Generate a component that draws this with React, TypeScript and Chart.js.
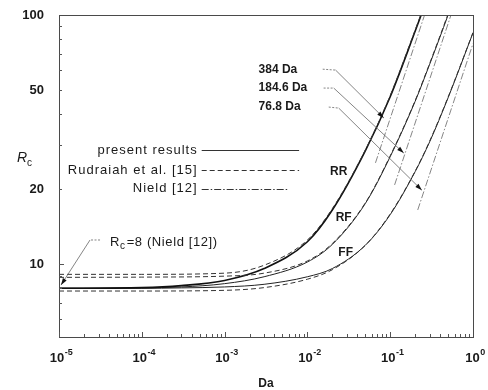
import React, { useEffect, useRef } from "react";
import { Chart, registerables } from "chart.js";

Chart.register(...registerables);

// ---- data ----
const rrPresentDa = [1e-5, 1e-4, 3e-4, 1e-3, 3e-3, 1e-2, 2e-2, 5e-2, 0.1, 0.2, 0.3];
const rrPresentR = [8.0, 8.05, 8.2, 8.6, 9.6, 12.3, 16.5, 28.5, 47, 86, 124];
const rfPresentDa = [1e-5, 1e-4, 3e-4, 1e-3, 3e-3, 1e-2, 2e-2, 5e-2, 0.1, 0.2, 0.3, 0.5, 0.6];
const rfPresentR = [8.0, 8.03, 8.1, 8.35, 8.9, 10.2, 12.0, 17.5, 27, 45, 63.5, 100, 119];
const ffPresentDa = [1e-5, 1e-4, 3e-4, 1e-3, 3e-3, 1e-2, 2e-2, 5e-2, 0.1, 0.2, 0.3, 0.5, 1];
const ffPresentR = [8.0, 8.0, 8.03, 8.1, 8.3, 8.9, 9.6, 11.9, 15.8, 23.5, 31, 46.5, 84.8];

const rrRudDa = [1e-5, 1e-4, 1e-3, 3e-3, 1e-2, 2e-2, 5e-2, 0.1, 0.2, 0.3];
const rrRudR = [9.1, 9.1, 9.2, 9.9, 12.5, 16.7, 28.7, 47.5, 87, 125];
const rfRudDa = [1e-5, 1e-4, 1e-3, 3e-3, 1e-2, 2e-2, 5e-2, 0.1, 0.2, 0.3, 0.5, 0.6];
const rfRudR = [8.85, 8.87, 8.95, 9.2, 10.3, 12.1, 17.6, 27.2, 45.3, 64, 101, 120];
const ffRudDa = [1e-5, 1e-4, 1e-3, 3e-3, 1e-2, 2e-2, 5e-2, 0.1, 0.2, 0.3, 0.5, 1];
const ffRudR = [7.8, 7.8, 7.85, 8.05, 8.7, 9.5, 11.9, 15.9, 23.6, 31.2, 46.8, 85];

const n384Da = [0.0664, 0.26];
const n384R = [25.5, 100];
const n185Da = [0.113, 0.542];
const n185R = [20.8, 100];
const n77Da = [0.215, 1];
const n77R = [16.5, 76.8];

const xTickValues = [1e-5, 1e-4, 1e-3, 1e-2, 1e-1, 1];
const xTickBase = "10";
const xTickExponents = ["-5", "-4", "-3", "-2", "-1", "0"];
const yTickValues = [10, 20, 50, 100];
const yTickLabels = ["10", "20", "50", "100"];

const legendLabels = ["present results", "Rudraiah et al. [15]", "Nield [12]"];
const slopeLabels = ["384 Da", "184.6 Da", "76.8 Da"];
const curveLabels = ["RR", "RF", "FF"];

const FONT = "'Liberation Sans', Arial, Helvetica, sans-serif";
const INK = "#1a1a1a";

const pts = (xs: number[], ys: number[]) => xs.map((x, i) => ({ x, y: ys[i] }));

const SOLID: number[] = [];
const DASH = [5, 3];
const DASHDOT = [7, 2, 1.5, 2];

function ds(xs: number[], ys: number[], dash: number[], width: number, color: string) {
  return {
    data: pts(xs, ys),
    borderColor: color,
    borderWidth: width,
    borderDash: dash,
    pointRadius: 0,
    fill: false,
    cubicInterpolationMode: "monotone" as const,
  };
}

function drawLeader(ctx: CanvasRenderingContext2D, s: number[], e: number[], t: number[]) {
  ctx.save();
  ctx.strokeStyle = "#666";
  ctx.lineWidth = 0.8;
  ctx.setLineDash([2, 1.5]);
  ctx.beginPath();
  ctx.moveTo(s[0], s[1]);
  ctx.lineTo(e[0], e[1]);
  ctx.stroke();
  ctx.setLineDash([]);
  ctx.beginPath();
  ctx.moveTo(e[0], e[1]);
  ctx.lineTo(t[0], t[1]);
  ctx.stroke();
  const ang = Math.atan2(t[1] - e[1], t[0] - e[0]);
  const L = 7, W = 2.2;
  ctx.fillStyle = "#111";
  ctx.beginPath();
  ctx.moveTo(t[0], t[1]);
  ctx.lineTo(t[0] - L * Math.cos(ang) + W * Math.sin(ang), t[1] - L * Math.sin(ang) - W * Math.cos(ang));
  ctx.lineTo(t[0] - L * Math.cos(ang) - W * Math.sin(ang), t[1] - L * Math.sin(ang) + W * Math.cos(ang));
  ctx.closePath();
  ctx.fill();
  ctx.restore();
}

const overlay = {
  id: "overlay",
  afterDraw(chart: any) {
    const { ctx, chartArea: a } = chart;
    const xs = chart.scales.x;
    const ys = chart.scales.y;
    const P = (da: number, r: number) => [xs.getPixelForValue(da), ys.getPixelForValue(r)];
    ctx.save();

    // frame
    ctx.strokeStyle = "#4a4a4a";
    ctx.lineWidth = 1;
    ctx.setLineDash([]);
    ctx.strokeRect(Math.round(a.left) + 0.5, Math.round(a.top) + 0.5, Math.round(a.right - a.left), Math.round(a.bottom - a.top));

    // inward ticks
    ctx.strokeStyle = "#555";
    for (let e = -5; e < 0; e++) {
      for (let m = 1; m <= 9; m++) {
        const v = m * Math.pow(10, e);
        const px = Math.round(xs.getPixelForValue(v)) + 0.5;
        const len = m === 1 ? 5 : 3;
        ctx.beginPath();
        ctx.moveTo(px, a.bottom);
        ctx.lineTo(px, a.bottom - len);
        ctx.stroke();
      }
    }
    for (let e = 0; e < 2; e++) {
      for (let m = 1; m <= 9; m++) {
        const v = m * Math.pow(10, e);
        if (v < ys.min || v > ys.max) continue;
        const py = Math.round(ys.getPixelForValue(v)) + 0.5;
        const len = m === 1 ? 5 : 3;
        ctx.beginPath();
        ctx.moveTo(a.left, py);
        ctx.lineTo(a.left + len, py);
        ctx.stroke();
      }
    }

    // x tick labels with superscript exponents
    ctx.fillStyle = INK;
    ctx.textBaseline = "alphabetic";
    ctx.textAlign = "left";
    xTickValues.forEach((v, i) => {
      const px = xs.getPixelForValue(v);
      ctx.font = `bold 13px ${FONT}`;
      const wb = ctx.measureText(xTickBase).width;
      ctx.font = `bold 9px ${FONT}`;
      const we = ctx.measureText(xTickExponents[i]).width;
      const x0 = px - (wb + we) / 2 + 2;
      const base = a.bottom + 25;
      ctx.font = `bold 13px ${FONT}`;
      ctx.fillText(xTickBase, x0, base);
      ctx.font = `bold 9px ${FONT}`;
      ctx.fillText(xTickExponents[i], x0 + wb + 0.5, base - 7);
    });

    // legend (positioned relative to plot area)
    const lx = a.left + (a.right - a.left) * 0.335;
    const lx2 = a.left + (a.right - a.left) * 0.58;
    const lys = [a.top + (a.bottom - a.top) * 0.42, a.top + (a.bottom - a.top) * 0.482, a.top + (a.bottom - a.top) * 0.54];
    const dashes = [SOLID, DASH, DASHDOT];
    ctx.fillStyle = INK;
    ctx.font = `13px ${FONT}`;
    ctx.textAlign = "right";
    ctx.textBaseline = "middle";
    (ctx as any).letterSpacing = "1px";
    legendLabels.forEach((t, i) => {
      ctx.fillText(t, lx, lys[i]);
      ctx.beginPath();
      ctx.setLineDash(dashes[i]);
      ctx.strokeStyle = "#333";
      ctx.lineWidth = 1;
      ctx.moveTo(lx + 4, Math.round(lys[i]) + 0.5);
      ctx.lineTo(i === 2 ? lx2 - 10 : lx2, Math.round(lys[i]) + 0.5);
      ctx.stroke();
    });
    (ctx as any).letterSpacing = "0px";
    ctx.setLineDash([]);

    // slope labels with leader arrows (anchor points in data units)
    const slopeText: [number, number][] = [[0.00257, 60.1], [0.00257, 50.9], [0.00257, 42.7]];
    const leaderStart: [number, number][] = [[0.0153, 60.6], [0.0157, 50.9], [0.0181, 42.7]];
    const leaderElbow: [number, number][] = [[0.0219, 60.1], [0.0208, 50.9], [0.0239, 42.3]];
    const leaderTip: [number, number][] = [[0.0837, 38.6], [0.146, 27.9], [0.2415, 19.8]];
    ctx.font = `bold 12px ${FONT}`;
    ctx.textAlign = "left";
    slopeLabels.forEach((t, i) => {
      const [tx, ty] = P(slopeText[i][0], slopeText[i][1]);
      ctx.fillStyle = INK;
      ctx.fillText(t, tx, ty);
      drawLeader(ctx, P(...leaderStart[i]), P(...leaderElbow[i]), P(...leaderTip[i]));
    });

    // curve labels
    const curvePos: [number, number][] = [[0.0239, 23.4], [0.0274, 15.3], [0.029, 11.1]];
    ctx.textAlign = "center";
    curveLabels.forEach((t, i) => {
      const [tx, ty] = P(curvePos[i][0], curvePos[i][1]);
      ctx.fillStyle = INK;
      ctx.fillText(t, tx, ty);
    });

    // Rc = 8 annotation
    const [rx, ry] = P(4.14e-5, 12.26);
    ctx.textAlign = "left";
    ctx.font = `13px ${FONT}`;
    (ctx as any).letterSpacing = "0.6px";
    ctx.fillText("R", rx, ry);
    const wR = ctx.measureText("R").width;
    ctx.font = `10px ${FONT}`;
    ctx.fillText("c", rx + wR, ry + 4);
    const wc = ctx.measureText("c").width;
    ctx.font = `13px ${FONT}`;
    ctx.fillText("=8 (Nield [12])", rx + wR + wc + 1, ry);
    (ctx as any).letterSpacing = "0px";
    drawLeader(ctx, P(3.13e-5, 12.5), P(2.37e-5, 12.5), P(1.057e-5, 8.24));

    // y-axis title R_c
    const yt = a.top + (a.bottom - a.top) * 0.445;
    ctx.fillStyle = INK;
    ctx.font = `italic 14px ${FONT}`;
    ctx.textAlign = "left";
    ctx.fillText("R", 17, yt);
    const wR2 = ctx.measureText("R").width;
    ctx.font = `10px ${FONT}`;
    ctx.fillText("c", 17 + wR2, yt + 5);

    // x-axis title
    ctx.font = `bold 12px ${FONT}`;
    ctx.textAlign = "center";
    ctx.fillText("Da", (a.left + a.right) / 2, a.bottom + 47);

    ctx.restore();
  },
};

export default function App() {
  const ref = useRef<HTMLCanvasElement | null>(null);
  useEffect(() => {
    if (!ref.current) return;
    const chart = new Chart(ref.current, {
      type: "line",
      data: {
        datasets: [
          ds(n384Da, n384R, DASHDOT, 0.9, "#777"),
          ds(n185Da, n185R, DASHDOT, 0.9, "#777"),
          ds(n77Da, n77R, DASHDOT, 0.9, "#777"),
          ds(rrRudDa, rrRudR, DASH, 1, "#333"),
          ds(rfRudDa, rfRudR, DASH, 1, "#333"),
          ds(ffRudDa, ffRudR, DASH, 1, "#333"),
          ds(rrPresentDa, rrPresentR, SOLID, 1.6, "#111"),
          ds(rfPresentDa, rfPresentR, SOLID, 1, "#222"),
          ds(ffPresentDa, ffPresentR, SOLID, 1, "#222"),
        ] as any,
      },
      options: {
        animation: false,
        responsive: false,
        devicePixelRatio: 1,
        layout: { padding: { top: 15, right: 15, left: 0, bottom: 0 } },
        plugins: { legend: { display: false }, tooltip: { enabled: false } },
        scales: {
          x: {
            type: "logarithmic",
            min: 1e-5,
            max: 1,
            grid: { display: false },
            border: { display: false },
            afterBuildTicks: (s: any) => {
              s.ticks = xTickValues.map((v) => ({ value: v, major: true }));
            },
            afterFit: (s: any) => {
              s.height = 53;
            },
            ticks: {
              autoSkip: false,
              maxRotation: 0,
              padding: 9,
              color: INK,
              font: { family: FONT, size: 13, weight: "bold" },
              callback: () => "",
            },
          },
          y: {
            type: "logarithmic",
            min: 5.1,
            max: 100,
            grid: { display: false },
            border: { display: false },
            afterBuildTicks: (s: any) => {
              s.ticks = yTickValues.map((v) => ({ value: v, major: true }));
            },
            afterFit: (s: any) => {
              s.width = 59;
            },
            ticks: {
              autoSkip: false,
              padding: 7,
              color: INK,
              font: { family: FONT, size: 13, weight: "bold" },
              callback: (_v: any, i: number) => yTickLabels[i],
            },
          },
        },
      } as any,
      plugins: [overlay],
    });
    return () => chart.destroy();
  }, []);
  return (
    <div style={{ position: "absolute", left: 0, top: 0, width: 488, height: 390, background: "#fff" }}>
      <canvas ref={ref} width={488} height={390} />
    </div>
  );
}
